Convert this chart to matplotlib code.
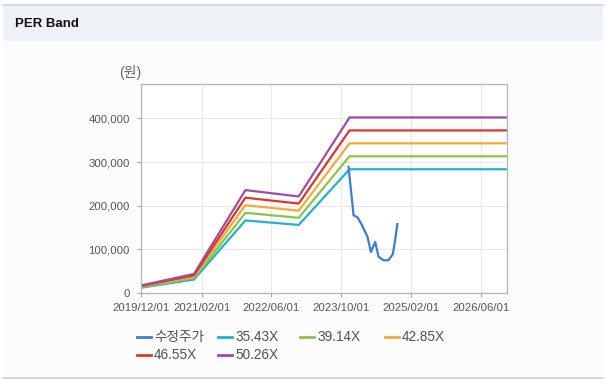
import matplotlib
matplotlib.use("Agg")
import matplotlib.pyplot as plt
import matplotlib.dates as mdates
from matplotlib.lines import Line2D
from matplotlib.patches import Rectangle
import numpy as np
import pandas as pd

# ---------------- data ----------------
band_dates = ["2019-12-01", "2020-12-07", "2021-12-01", "2022-12-08", "2023-11-28", "2026-11-29"]
band_3543 = [12000, 30800, 166200, 155900, 283400, 283400]
band_3914 = [13300, 34100, 183600, 172200, 313100, 313100]
band_4285 = [14600, 37300, 201000, 188500, 342800, 342800]
band_4655 = [15800, 40500, 218300, 204800, 372400, 372400]
band_5026 = [17100, 43700, 235700, 221100, 402100, 402100]

price_dates = ["2023-11-21", "2023-12-26", "2024-01-23", "2024-02-22", "2024-04-01",
               "2024-04-25", "2024-05-25", "2024-06-17", "2024-07-22", "2024-08-25",
               "2024-09-25", "2024-10-11", "2024-10-27"]
price = [289000, 178000, 173000, 156000, 129000, 94000, 117000, 83000, 75000, 75000,
         89000, 121000, 158000]

series_names = ["수정주가", "35.43X", "39.14X", "42.85X", "46.55X", "50.26X"]
colors = ["#3b7dd8", "#1fb5c9", "#8bc34a", "#f5a93b", "#e0342b", "#9c4ea5"]

xtick_dates = ["2019-12-01", "2021-02-01", "2022-06-01", "2023-10-01", "2025-02-01", "2026-06-01"]
xtick_labels = ["2019/12/01", "2021/02/01", "2022/06/01", "2023/10/01", "2025/02/01", "2026/06/01"]
ytick_vals = [0, 100000, 200000, 300000, 400000]
ytick_labels = ["0", "100,000", "200,000", "300,000", "400,000"]

# ---------------- figure ----------------
W, H = 613, 391
fig = plt.figure(figsize=(W / 100, H / 100), dpi=100, facecolor="white")
FONT = ["Liberation Sans", "Noto Sans CJK KR", "DejaVu Sans"]
plt.rcParams["font.family"] = FONT


def fx(x):
    return x / W


def fy(y):
    return 1 - y / H


# container backgrounds
fig.add_artist(Rectangle((fx(3), fy(378)), fx(600), (378 - 40.5) / H,
                         transform=fig.transFigure, facecolor="#fcfcfc", edgecolor="none", zorder=0))
fig.add_artist(Rectangle((fx(3), fy(40.5)), fx(600), 35 / H,
                         transform=fig.transFigure, facecolor="#eef2f7", edgecolor="none", zorder=0))
fig.add_artist(Line2D([fx(3), fx(603)], [fy(5.2), fy(5.2)], transform=fig.transFigure,
                      color="#d2d5da", lw=1.2, zorder=1))
fig.add_artist(Line2D([fx(3), fx(603)], [fy(378.3), fy(378.3)], transform=fig.transFigure,
                      color="#cfcfcf", lw=1.2, zorder=1))

fig.text(fx(15), fy(24), "PER Band", fontsize=9.5, fontweight="bold", color="#111111",
         ha="left", va="center")

# axes
ax = fig.add_axes([fx(140.7), fy(293), (506.7 - 140.7) / W, (293 - 84.3) / H])
ax.set_facecolor("white")

bd = pd.to_datetime(band_dates)
pdts = pd.to_datetime(price_dates)
bands = [band_3543, band_3914, band_4285, band_4655, band_5026]
for vals, c in zip(bands, colors[1:]):
    ax.plot(bd, vals, color=c, lw=1.6, solid_joinstyle="round")
ax.plot(pdts, price, color=colors[0], lw=1.6, solid_joinstyle="round")

ax.set_xlim(pd.Timestamp("2019-12-01"), pd.Timestamp("2026-11-29"))
ax.set_ylim(0, 478000)
ax.set_xticks(pd.to_datetime(xtick_dates))
ax.set_xticklabels(xtick_labels)
ax.set_yticks(ytick_vals)
ax.set_yticklabels(ytick_labels)
ax.tick_params(axis="both", labelsize=8.2, colors="#aaaaaa", labelcolor="#555555",
               length=3, width=0.8)
ax.tick_params(axis="y", pad=5)
ax.tick_params(axis="x", pad=4)
ax.grid(True, color="#e9e9e9", lw=0.8)
ax.set_axisbelow(True)
for s in ax.spines.values():
    s.set_color("#b5b5b5")
    s.set_linewidth(0.9)

fig.text(fx(119), fy(72.5), "(원)", fontsize=10, color="#666666", ha="left", va="center")

# legend (manual)
legend_pos = [(137, 336.7), (218, 336.7), (300, 336.7), (385, 336.7), (137, 355), (218, 355)]
for (x, y), name, c in zip(legend_pos, series_names, colors):
    fig.add_artist(Line2D([fx(x), fx(x + 14)], [fy(y), fy(y)], transform=fig.transFigure,
                          color=c, lw=2))
    fig.text(fx(x + 17), fy(y), name, fontsize=9.8, color="#505050", ha="left", va="center")

fig.savefig("out.png", dpi=100, facecolor="white")
